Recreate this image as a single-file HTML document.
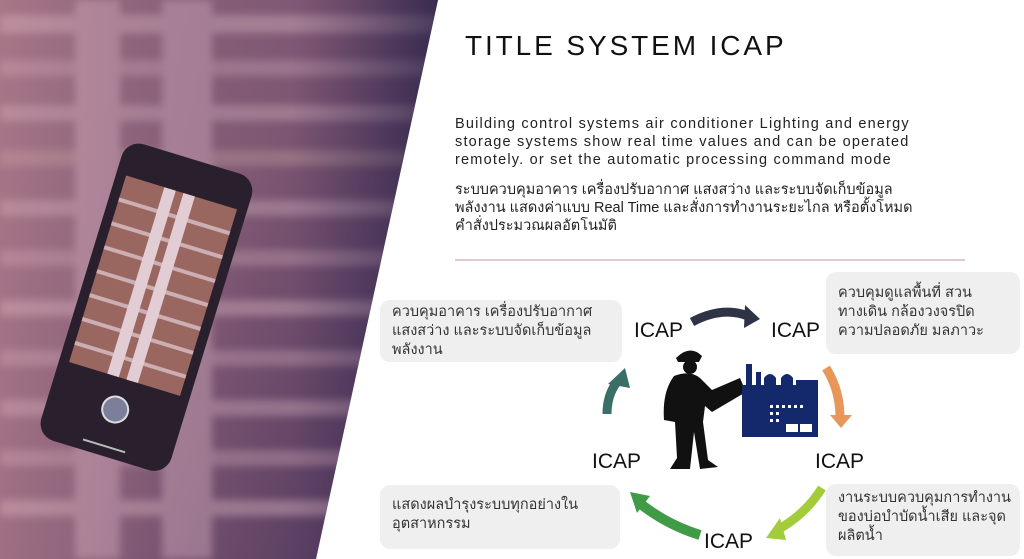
<!DOCTYPE html>
<html><head><meta charset="utf-8"><style>
*{margin:0;padding:0;box-sizing:border-box}
body{width:1024px;height:559px;position:relative;overflow:hidden;background:#fff;font-family:"Liberation Sans","Noto Sans CJK SC",sans-serif;color:#222}
.t{position:absolute;white-space:nowrap}
.p{font-size:14.5px;line-height:18px;letter-spacing:1.2px}
.box{position:absolute;background:#efefef;border-radius:10px;font-size:14.5px;line-height:19px;padding:8px 12px;white-space:nowrap;color:#333}
.icap{position:absolute;font-size:21px;color:#111;white-space:nowrap}
</style></head><body>
<svg width="1024" height="559" style="position:absolute;left:0;top:0">
<defs>
<linearGradient id="bg" x1="0" y1="0" x2="1" y2="0.6">
<stop offset="0" stop-color="#9a6d80"/><stop offset="0.55" stop-color="#8a5f78"/><stop offset="1" stop-color="#5a3f62"/></linearGradient>
<linearGradient id="ov" x1="0" y1="0" x2="1" y2="0">
<stop offset="0" stop-color="#c08a96" stop-opacity="0.35"/><stop offset="0.65" stop-color="#3a2a55" stop-opacity="0.15"/><stop offset="1" stop-color="#1c1a40" stop-opacity="0.75"/></linearGradient>
<filter id="bl"><feGaussianBlur stdDeviation="4"/></filter>
<clipPath id="cp"><polygon points="0,0 438,0 316,559 0,559"/></clipPath>
</defs>
<g clip-path="url(#cp)">
<rect width="450" height="559" fill="url(#bg)"/>
<g filter="url(#bl)" opacity="0.55">
<rect x="0" y="15" width="450" height="18" fill="#d9b2be"/>
<rect x="0" y="60" width="450" height="16" fill="#c79eae"/>
<rect x="0" y="105" width="450" height="16" fill="#d0aab8"/>
<rect x="0" y="150" width="450" height="16" fill="#c0999a"/>
<rect x="0" y="200" width="450" height="16" fill="#d0aab8"/>
<rect x="0" y="250" width="450" height="16" fill="#c79eae"/>
<rect x="0" y="300" width="450" height="16" fill="#d9b2be"/>
<rect x="0" y="350" width="450" height="16" fill="#c79eae"/>
<rect x="0" y="400" width="450" height="16" fill="#d0aab8"/>
<rect x="0" y="450" width="450" height="16" fill="#c79eae"/>
<rect x="0" y="500" width="450" height="16" fill="#d9b2be"/>
<rect x="75" y="0" width="45" height="559" fill="#d8b0c0"/>
<rect x="162" y="0" width="50" height="559" fill="#d8b0c0"/>
</g>
<rect width="450" height="559" fill="url(#ov)"/>
<g transform="translate(145,312) rotate(17)">
<rect x="-68" y="-160" width="136" height="310" rx="18" fill="#2a1f2c"/>
<rect x="-58" y="-125" width="116" height="195" fill="#9a6660"/>
<g stroke="#d9c2c8" stroke-width="4" opacity="0.8">
<line x1="-58" y1="-100" x2="58" y2="-100"/><line x1="-58" y1="-75" x2="58" y2="-75"/><line x1="-58" y1="-50" x2="58" y2="-50"/><line x1="-58" y1="-25" x2="58" y2="-25"/><line x1="-58" y1="0" x2="58" y2="0"/><line x1="-58" y1="25" x2="58" y2="25"/><line x1="-58" y1="50" x2="58" y2="50"/></g>
<rect x="-18" y="-125" width="12" height="195" fill="#e3cdd4"/>
<rect x="2" y="-125" width="12" height="195" fill="#e3cdd4"/>
<circle cx="0" cy="102" r="13" fill="#7c7f9a" stroke="#ddd" stroke-width="2"/>
<line x1="-22" y1="140" x2="22" y2="140" stroke="#bbb" stroke-width="2"/>
</g>
</g>
<line x1="455" y1="260" x2="965" y2="260" stroke="#d9a7b2" stroke-width="1.2"/>
<path d="M692 322 Q722 306 748 316" fill="none" stroke="#2e3346" stroke-width="9"/>
<polygon points="745,305 760,319 744,328" fill="#2e3346"/>
<path d="M826 368 Q840 390 840 418" fill="none" stroke="#e8975a" stroke-width="9"/>
<polygon points="830,415 852,415 841,428" fill="#e8975a"/>
<path d="M822 488 Q805 515 777 530" fill="none" stroke="#a3cc3a" stroke-width="9"/>
<polygon points="780,518 766,538 786,540" fill="#a3cc3a"/>
<path d="M700 535 Q668 525 642 505" fill="none" stroke="#3f9b45" stroke-width="10"/>
<polygon points="630,492 650,496 637,513" fill="#3f9b45"/>
<path d="M607 414 Q607 395 617 382" fill="none" stroke="#3a6f68" stroke-width="9"/>
<polygon points="608,384 625,368 630,388" fill="#3a6f68"/>
<g fill="#111">
<path d="M676 358 Q690 344 702 356 L699 362 L678 362 Z"/>
<circle cx="690" cy="367" r="7"/>
<path d="M674 376 Q690 370 700 378 L712 390 L740 378 L746 392 L712 412 L705 406 L703 422 L708 460 L718 467 L700 469 L694 432 L690 469 L670 469 L677 458 L675 422 L664 420 Q662 392 674 376 Z"/>
</g>
<g fill="#13296b">
<rect x="742" y="385" width="76" height="52"/>
<rect x="746" y="364" width="6" height="22"/>
<rect x="756" y="372" width="5" height="14"/>
<path d="M764 386 L764 378 Q770 370 776 378 L776 386 Z"/>
<path d="M781 386 L781 378 Q787 370 793 378 L793 386 Z"/>
<rect x="796" y="380" width="22" height="6"/>
</g>
<g fill="#fff"><rect x="770" y="405" width="3" height="3"/><rect x="776" y="405" width="3" height="3"/><rect x="782" y="405" width="3" height="3"/><rect x="788" y="405" width="3" height="3"/><rect x="794" y="405" width="3" height="3"/><rect x="800" y="405" width="3" height="3"/><rect x="770" y="412" width="3" height="3"/><rect x="776" y="412" width="3" height="3"/><rect x="770" y="419" width="3" height="3"/><rect x="776" y="419" width="3" height="3"/><rect x="786" y="424" width="12" height="8"/><rect x="800" y="424" width="12" height="8"/></g>
</svg>
<div class="t" style="left:465px;top:30px;font-size:28px;letter-spacing:2.9px;color:#111">TITLE SYSTEM ICAP</div>
<div class="t p" style="left:455px;top:115px">Building control systems air conditioner Lighting and energy<br>storage systems show real time values and can be operated<br>remotely. or set the automatic processing command mode</div>
<div class="t p" style="left:455px;top:181px;letter-spacing:0px">ระบบควบคุมอาคาร เครื่องปรับอากาศ แสงสว่าง และระบบจัดเก็บข้อมูล<br>พลังงาน แสดงค่าแบบ Real Time และสั่งการทำงานระยะไกล หรือตั้งโหมด<br>คำสั่งประมวณผลอัตโนมัติ</div>
<div class="box" style="left:380px;top:300px;width:242px;height:62px;padding-top:3px">ควบคุมอาคาร เครื่องปรับอากาศ<br>แสงสว่าง และระบบจัดเก็บข้อมูล<br>พลังงาน</div>
<div class="box" style="left:826px;top:272px;width:194px;height:82px;padding-top:12px">ควบคุมดูแลพื้นที่ สวน<br>ทางเดิน กล้องวงจรปิด<br>ความปลอดภัย มลภาวะ</div>
<div class="box" style="left:380px;top:485px;width:240px;height:64px;padding-top:11px">แสดงผลบำรุงระบบทุกอย่างใน<br>อุตสาหกรรม</div>
<div class="box" style="left:826px;top:484px;width:194px;height:72px;padding-top:5px">งานระบบควบคุมการทำงาน<br>ของบ่อบำบัดน้ำเสีย และจุด<br>ผลิตน้ำ</div>
<div class="icap" style="left:634px;top:319px">ICAP</div>
<div class="icap" style="left:771px;top:319px">ICAP</div>
<div class="icap" style="left:592px;top:450px">ICAP</div>
<div class="icap" style="left:815px;top:450px">ICAP</div>
<div class="icap" style="left:704px;top:530px">ICAP</div>
</body></html>
